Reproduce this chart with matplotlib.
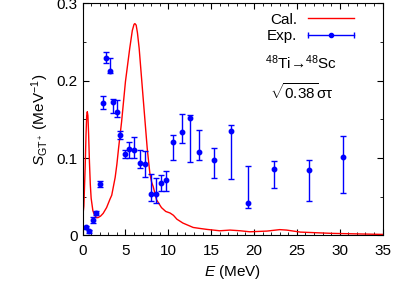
import matplotlib
matplotlib.use("Agg")
import matplotlib.pyplot as plt
from matplotlib.lines import Line2D
from matplotlib.legend_handler import HandlerLine2D
from matplotlib.ticker import MultipleLocator

plt.rcParams['font.family'] = ['Liberation Sans', 'DejaVu Sans']
plt.rcParams['mathtext.fontset'] = 'custom'
plt.rcParams['mathtext.rm'] = 'Liberation Sans'
plt.rcParams['mathtext.it'] = 'Liberation Sans:italic'
plt.rcParams['mathtext.bf'] = 'Liberation Sans:bold'
plt.rcParams['font.size'] = 11

# calculated strength (red curve)
cal_E = [0.0, 0.15, 0.3, 0.4, 0.48, 0.55, 0.62, 0.7, 0.8, 0.9, 1.0, 1.2, 1.4,
         1.6, 1.8, 2.1, 2.4, 2.8, 3.2, 3.4, 3.8, 4.0, 4.2, 4.55, 5.0, 5.5,
         5.8, 6.0, 6.1, 6.25, 6.4, 6.6, 7.07, 7.54, 7.85, 8.05, 8.24, 8.63,
         9.2, 9.7, 10.2, 10.6, 11.0, 11.7, 12.9, 13.7, 14.5, 16.0, 17.2,
         18.4, 19.5, 21.5, 23.0, 23.8, 25.4, 29.2, 35.0]
cal_S = [0.022, 0.038, 0.088, 0.13, 0.155, 0.160, 0.155, 0.132, 0.095, 0.066,
         0.048, 0.032, 0.026, 0.023, 0.023, 0.025, 0.0285, 0.036, 0.047,
         0.052, 0.075, 0.092, 0.113, 0.147, 0.199, 0.242, 0.265, 0.273,
         0.274, 0.272, 0.262, 0.242, 0.177, 0.1125, 0.080, 0.069, 0.063,
         0.046, 0.036, 0.031, 0.029, 0.026, 0.021, 0.016, 0.0103, 0.009,
         0.0078, 0.006, 0.0069, 0.006, 0.0047, 0.0056, 0.0075, 0.0069,
         0.0043, 0.0026, 0.0013]

# experimental strength with asymmetric errors
exp_E = [0.35, 0.77, 1.17, 1.55, 1.98, 2.37, 2.75, 3.15, 3.57, 3.97, 4.35,
         4.9, 5.44, 6.02, 6.72, 7.3, 7.93, 8.55, 9.17, 9.76, 10.54, 11.55,
         12.56, 13.57, 15.28, 17.3, 19.3, 22.3, 26.4, 30.4]
exp_S = [0.0103, 0.0056, 0.0198, 0.0289, 0.066, 0.1715, 0.230, 0.2125, 0.172,
         0.159, 0.130, 0.105, 0.112, 0.110, 0.094, 0.093, 0.054, 0.054, 0.068,
         0.072, 0.121, 0.134, 0.152, 0.108, 0.098, 0.135, 0.042, 0.0858,
         0.0845, 0.101]
err_lo = [0.002, 0.002, 0.004, 0.003, 0.004, 0.0085, 0.007, 0.003, 0.014,
          0.006, 0.005, 0.005, 0.012, 0.010, 0.007, 0.017, 0.010, 0.012,
          0.010, 0.014, 0.024, 0.015, 0.057, 0.010, 0.0235, 0.062, 0.007,
          0.024, 0.040, 0.046]
err_hi = [0.002, 0.002, 0.004, 0.003, 0.004, 0.0085, 0.007, 0.0175, 0.005,
          0.016, 0.005, 0.005, 0.009, 0.017, 0.017, 0.016, 0.025, 0.020,
          0.010, 0.011, 0.009, 0.023, 0.004, 0.029, 0.0145, 0.008, 0.048,
          0.011, 0.0135, 0.027]

fig = plt.figure(figsize=(4.15, 2.91), dpi=100)
ax = fig.add_axes([0.199, 0.191, 0.723, 0.797])

ax.plot(cal_E, cal_S, color='red', lw=1.0, label='Cal.')
ax.errorbar(exp_E, exp_S, yerr=[err_lo, err_hi], fmt='o', color='blue',
            ms=3.2, elinewidth=1.0, capsize=2, capthick=1.0)

ax.set_xlim(0, 35)
ax.set_ylim(0, 0.3)
ax.xaxis.set_major_locator(MultipleLocator(5))
ax.xaxis.set_minor_locator(MultipleLocator(1))
ax.yaxis.set_minor_locator(MultipleLocator(0.05))
ax.set_yticks([0, 0.1, 0.2, 0.3])
ax.set_yticklabels(['0', '0.1', '0.2', '0.3'])
ax.tick_params(which='both', direction='in', top=True, right=True)
ax.tick_params(which='major', length=4)
ax.tick_params(which='minor', length=2)
ax.tick_params(axis='x', pad=6)

ax.set_xlabel('$E$ (MeV)')
ax.set_ylabel(r'$S_{\rm GT^+}$ (MeV$^{-1}$)')

ax.text(25.5, 0.224, '$^{48}$Ti→$^{48}$Sc', ha='center', va='center')
ax.text(25.5, 0.185, r'$\sqrt{0.38}\mathrm{\sigma\tau}$', ha='center', va='center')

cal_h = Line2D([], [], color='red', lw=1.0)
exp_h = Line2D([], [], color='blue', lw=1.0, marker='o', ms=3)
caps_h = Line2D([], [], color='blue', marker='|', ms=5, mew=1.0, ls='none')
ax.legend([cal_h, (exp_h, caps_h)], ['Cal.', 'Exp.'],
          handler_map={caps_h: HandlerLine2D(marker_pad=0, numpoints=2)},
          loc='upper right', bbox_to_anchor=(0.95, 1.02), frameon=False,
          markerfirst=False, handlelength=3.0, labelspacing=0.15,
          handletextpad=0.7)

fig.savefig('out.png', dpi=100)
